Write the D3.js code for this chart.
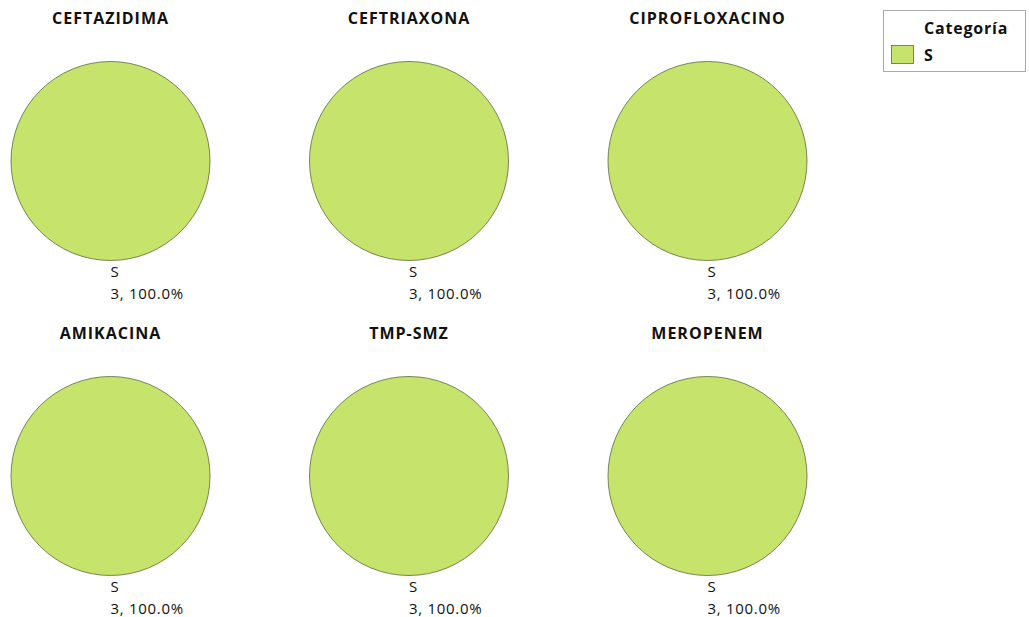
<!DOCTYPE html>
<html>
<head>
<meta charset="utf-8">
<script src="https://cdn.jsdelivr.net/npm/d3@7"></script>
<style>
  body { margin: 0; background: #fff; }
  svg text { font-family: "Open Sans", "Noto Sans", sans-serif; fill: #111; }
</style>
</head>
<body>
<div id="chart"></div>
<script>
const width = 1029;
const height = 617;

// datos
const antibiotics = ["CEFTAZIDIMA", "CEFTRIAXONA", "CIPROFLOXACINO", "AMIKACINA", "TMP-SMZ", "MEROPENEM"];
const categories = ["S"];
const counts = [[3], [3], [3], [3], [3], [3]];

const FILL = "#c6e36c";
const STROKE = "#5b6b38";

const svg = d3.select("#chart")
    .append("svg")
    .attr("width", width)
    .attr("height", height);

// posiciones de los paneles
const col = d3.scalePoint().domain([0, 1, 2]).range([110.5, 707.5]);
const row = d3.scalePoint().domain([0, 1]).range([161, 476]);
const radius = 99.5;

const color = d3.scaleOrdinal().domain(categories).range([FILL]);
const pie = d3.pie().sort(null);
const arc = d3.arc().innerRadius(0).outerRadius(radius);

antibiotics.forEach((name, i) => {
    const cx = col(i % 3);
    const cy = row(Math.floor(i / 3));
    const vals = counts[i];
    const total = d3.sum(vals);

    const g = svg.append("g").attr("transform", `translate(${cx},${cy})`);

    g.append("text")
        .attr("x", 0)
        .attr("y", -137)
        .attr("text-anchor", "middle")
        .attr("font-size", 16)
        .attr("font-weight", "bold")
        .attr("letter-spacing", 1)
        .text(name);

    const arcs = pie(vals);
    arcs.forEach((a, j) => {
        if (a.endAngle - a.startAngle >= 2 * Math.PI - 1e-9) {
            g.append("circle")
                .attr("r", radius)
                .attr("fill", color(categories[j]))
                .attr("stroke", STROKE)
                .attr("stroke-width", 0.8);
        } else {
            g.append("path")
                .attr("d", arc(a))
                .attr("fill", color(categories[j]))
                .attr("stroke", STROKE)
                .attr("stroke-width", 0.8);
        }

        // etiqueta debajo del círculo
        g.append("text")
            .attr("x", 0)
            .attr("y", radius + 16)
            .attr("font-size", 15)
            .text(categories[j]);
        g.append("text")
            .attr("x", 0)
            .attr("y", radius + 38)
            .attr("font-size", 15)
            .attr("letter-spacing", 0.7)
            .text(`${vals[j]}, ${(vals[j] / total * 100).toFixed(1)}%`);
    });
});

// leyenda
const legend = svg.append("g");
legend.append("rect")
    .attr("x", 883.5).attr("y", 10.5)
    .attr("width", 142).attr("height", 61)
    .attr("fill", "#fff")
    .attr("stroke", "#aaa");
legend.append("text")
    .attr("x", 924).attr("y", 34)
    .attr("font-size", 16)
    .attr("font-weight", "bold")
    .attr("letter-spacing", 0.8)
    .text("Categoría");
categories.forEach((c, j) => {
    legend.append("rect")
        .attr("x", 891.5).attr("y", 45.5 + j * 22)
        .attr("width", 22).attr("height", 18)
        .attr("fill", color(c))
        .attr("stroke", STROKE)
        .attr("stroke-width", 0.8);
    legend.append("text")
        .attr("x", 924).attr("y", 61 + j * 22)
        .attr("font-size", 16)
        .attr("font-weight", "bold")
        .text(c);
});
</script>
</body>
</html>
